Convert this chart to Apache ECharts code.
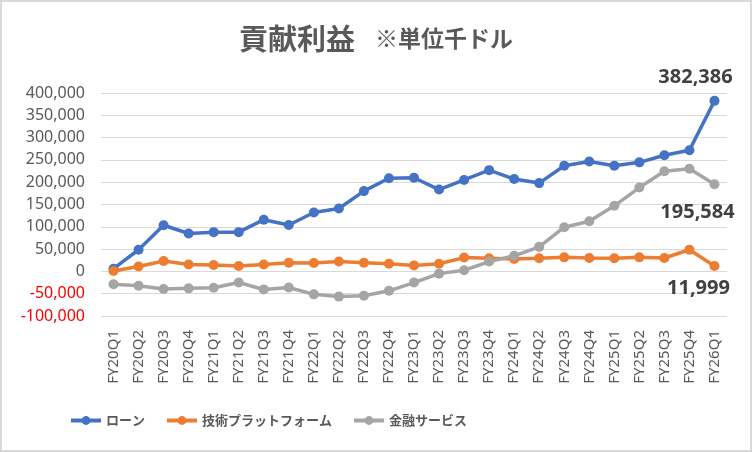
<!DOCTYPE html>
<html lang="ja">
<head>
  <meta charset="UTF-8">
  <title>貢献利益</title>
  <script src="https://cdn.jsdelivr.net/npm/echarts@6/dist/echarts.min.js"></script>
</head>
<body style="margin:0;width:752px;height:452px;overflow:hidden;background:#fff;">
  <div id="main" style="width:752px;height:452px;box-sizing:border-box;border:2px solid #d9d9d9;"></div>
</body>
<script>
  // 四半期
  var quarters = ['FY20Q1', 'FY20Q2', 'FY20Q3', 'FY20Q4', 'FY21Q1', 'FY21Q2', 'FY21Q3', 'FY21Q4',
    'FY22Q1', 'FY22Q2', 'FY22Q3', 'FY22Q4', 'FY23Q1', 'FY23Q2', 'FY23Q3', 'FY23Q4',
    'FY24Q1', 'FY24Q2', 'FY24Q3', 'FY24Q4', 'FY25Q1', 'FY25Q2', 'FY25Q3', 'FY25Q4', 'FY26Q1'];

  // 単位：千ドル
  var loan = [6000, 48500, 103500, 85000, 88000, 88000, 116000, 104000,
    132000, 141000, 180000, 209000, 210000, 183500, 205000, 227000,
    207000, 198000, 237000, 246500, 237000, 244500, 260500, 271500, 382386];
  var techPlatform = [1000, 11000, 23500, 15500, 14500, 12000, 15500, 19500,
    19000, 22000, 19500, 17000, 13500, 17000, 31000, 29500,
    28000, 29500, 31500, 30000, 29500, 31500, 30000, 48500, 11999];
  var finService = [-29000, -32000, -39500, -38000, -36500, -25000, -40500, -36000,
    -51500, -56500, -54500, -43500, -25000, -5000, 2500, 22000,
    35000, 55000, 99000, 112500, 147000, 188000, 224500, 230000, 195584];

  var yTicks = { min: -100000, max: 400000, interval: 50000 };

  var myChart = echarts.init(document.getElementById('main'));
  var fontFamily = '"Noto Sans", "Noto Sans CJK JP", sans-serif';
  var cjkFont = '"Noto Sans CJK JP", sans-serif';

  function lastLabel(offset) {
    return {
      show: true,
      position: 'top',
      offset: offset,
      fontSize: 20,
      fontWeight: 'bold',
      color: '#404040',
      fontFamily: fontFamily,
      formatter: function (p) {
        return p.dataIndex === quarters.length - 1 ? p.value.toLocaleString('en-US') : '';
      }
    };
  }

  function makeSeries(name, data, color, offset) {
    return {
      name: name,
      type: 'line',
      data: data,
      symbol: 'circle',
      symbolSize: 10,
      lineStyle: { width: 3.5, color: color },
      itemStyle: { color: color },
      label: lastLabel(offset),
      emphasis: { disabled: true }
    };
  }

  var option = {
    animation: false,
    backgroundColor: '#fff',
    title: {
      text: '{a|貢献利益}    {b|※単位千ドル}',
      left: 'center',
      top: 17,
      textStyle: {
        rich: {
          a: { fontSize: 29, color: '#595959', fontFamily: cjkFont },
          b: { fontSize: 23, color: '#595959', fontFamily: cjkFont }
        }
      }
    },
    legend: {
      left: 62,
      top: 407,
      itemWidth: 30,
      itemHeight: 11,
      itemGap: 20,
      lineStyle: { width: 4 },
      textStyle: { fontSize: 13, fontWeight: 'bold', color: '#595959', fontFamily: cjkFont },
      data: ['ローン', '技術プラットフォーム', '金融サービス']
    },
    grid: { left: 99, right: 23, top: 91, bottom: 134, containLabel: false },
    xAxis: {
      type: 'category',
      data: quarters,
      axisLine: { show: false },
      axisTick: { show: false },
      axisLabel: {
        rotate: 90,
        interval: 0,
        margin: 14,
        fontSize: 15,
        color: '#595959',
        fontFamily: fontFamily
      }
    },
    yAxis: {
      type: 'value',
      min: yTicks.min,
      max: yTicks.max,
      interval: yTicks.interval,
      axisLine: { show: false },
      axisTick: { show: false },
      splitLine: { lineStyle: { color: '#d9d9d9', width: 1 } },
      axisLabel: {
        margin: 16,
        fontSize: 16,
        fontFamily: fontFamily,
        color: function (v) { return parseFloat(v) < 0 ? '#ff0000' : '#595959'; },
        formatter: function (v) { return v.toLocaleString('en-US'); }
      }
    },
    series: [
      makeSeries('ローン', loan, '#4472c4', [-19, -4]),
      makeSeries('技術プラットフォーム', techPlatform, '#ed7d31', [-16, 42]),
      makeSeries('金融サービス', finService, '#a5a5a5', [-17, 48])
    ]
  };

  myChart.setOption(option);
</script>
</html>
